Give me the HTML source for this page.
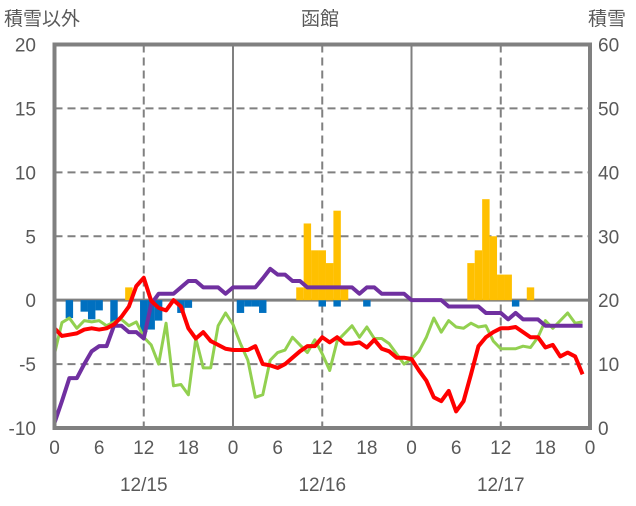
<!DOCTYPE html>
<html><head><meta charset="utf-8"><style>
body{margin:0;background:#fff;}
svg text{font-family:"Liberation Sans","Noto Sans CJK JP",sans-serif;fill:#595959;font-size:19px;}
</style></head><body>
<svg id="chart" width="636" height="501" xmlns="http://www.w3.org/2000/svg">
<g id="grid"></g>
<g id="bars"></g>
<g id="lines"></g>
<g id="frame"></g>
<g id="labels"></g>
<text x="4" y="25">積雪以外</text>
<text x="320" y="25" text-anchor="middle">函館</text>
<text x="588" y="25">積雪</text>
</svg>
<script>
const leftTicks=[20,15,10,5,0,-5,-10];
const rightTicks=[60,50,40,30,20,10,0];
const xTickLabels=["0","6","12","18","0","6","12","18","0","6","12","18","0"];
const dateLabels=["12/15","12/16","12/17"];
const temperature=[-2.2,-2.8,-2.7,-2.6,-2.3,-2.2,-2.3,-2.2,-1.9,-1.3,-0.5,1.1,1.75,-0.05,-0.6,-0.8,0,-0.5,-2.2,-3,-2.5,-3.2,-3.5,-3.8,-3.9,-3.9,-3.9,-3.6,-5,-5.1,-5.3,-5,-4.5,-4,-3.6,-3.6,-2.9,-3.3,-2.9,-3.4,-3.4,-3.3,-3.7,-3.1,-3.8,-4,-4.5,-4.5,-4.6,-5.5,-6.3,-7.6,-7.9,-7.1,-8.7,-7.9,-5.8,-3.6,-2.9,-2.5,-2.2,-2.2,-2.1,-2.5,-2.9,-2.9,-3.7,-3.5,-4.4,-4.1,-4.4,-5.8];
const greenSeries=[-4.2,-1.75,-1.4,-2.2,-1.6,-1.7,-1.6,-2,-1.7,-1.5,-2,-1.7,-2.9,-3.5,-5,-1.8,-6.7,-6.6,-7.4,-3,-5.3,-5.3,-2,-1,-1.9,-3.4,-4.7,-7.6,-7.4,-4.7,-4.1,-3.9,-2.9,-3.5,-4.1,-3.1,-4.2,-5.5,-3.2,-2.6,-2,-2.9,-2.1,-3,-3,-3.4,-4.2,-5,-4.6,-4,-2.9,-1.4,-2.5,-1.6,-2.1,-2.2,-1.8,-2.1,-2,-3.2,-3.8,-3.8,-3.8,-3.6,-3.7,-2.9,-1.6,-2.2,-1.6,-1,-1.8,-1.7];
const purpleSeries=[-9.6,-7.9,-6.1,-6.1,-5,-4,-3.6,-3.6,-2,-2,-2.5,-2.5,-3,-0.3,0.5,0.5,0.5,1,1.5,1.5,1,1,1,0.5,1,1,1,1,1.7,2.45,2,2,1.5,1.5,1,1,1,1,1,1,1,0.5,1,1,0.5,0.5,0.5,0.5,0,0,0,0,0,-0.5,-0.5,-0.5,-0.5,-0.5,-1,-1,-1,-1.5,-1,-1.5,-1.5,-1.5,-2,-2,-2,-2,-2,-2];
const blueHours=[2,4,5,6,8,12,13,14,17,18,25,26,27,28,36,38,42,62];
const blueValues=[-1.4,-0.9,-1.5,-0.8,-2,-2.5,-2.3,-1.6,-1,-0.6,-1,-0.5,-0.5,-1,-0.5,-0.5,-0.5,-0.5];
const snowHours=[10,33,34,35,36,37,38,39,56,57,58,59,60,61,64];
const snowValues=[1,1,6,3.9,3.9,2.9,7,1,2.9,3.9,7.9,5,2,2,1];
const L=54.5,R=590,T=44.5,B=428;
const x=h=>L+h*(R-L)/72;
const y=v=>T+(20-v)*(B-T)/30;
const NS="http://www.w3.org/2000/svg";
function mk(tag,parent,attrs){const e=document.createElementNS(NS,tag);for(const k in attrs)e.setAttribute(k,attrs[k]);document.getElementById(parent).appendChild(e);return e;}
// grid
leftTicks.forEach(v=>{if(v===20||v===-10)return;
 const e=mk('line','grid',{x1:L,x2:R,y1:y(v),y2:y(v),stroke:v===0?'#808080':'#808080','stroke-width':v===0?3:2,'stroke-dasharray':v===0?'':'8,5'});
 
 });
[12,24,36,48,60].forEach(h=>{const solid=h%24===0;
 const e=mk('line','grid',{x1:x(h),x2:x(h),y1:T,y2:B,stroke:'#808080','stroke-width':2,'stroke-dasharray':solid?'':'8,5'});
 
 });
const bw=(R-L)/72;
blueHours.forEach((h,i)=>{const v=blueValues[i];
 const e=mk('rect','bars',{x:x(h)-bw/2,y:y(0),width:bw,height:y(v)-y(0),fill:'#0070c0'});
 
 });
snowHours.forEach((h,i)=>{const v=snowValues[i];
 const e=mk('rect','bars',{x:x(h)-bw/2,y:y(v),width:bw,height:y(0)-y(v),fill:'#ffc000'});
 
 });
function line(arr,color,w,name){const pts=arr.map((v,i)=>x(i)+','+y(v)).join(' ');
 const e=mk('polyline','lines',{points:pts,fill:'none',stroke:color,'stroke-width':w,'stroke-linejoin':'round'});
 
 }
line(greenSeries,'#92d050',3,'green-line');
line(purpleSeries,'#7030a0',4,'purple-line');
line(temperature,'#ff0000',4,'temperature-line');
const fr=mk('rect','frame',{x:L,y:T,width:R-L,height:B-T,fill:'none',stroke:'#808080','stroke-width':4});


leftTicks.forEach(v=>{const t=mk('text','labels',{x:36,y:y(v)+7,'text-anchor':'end'});t.textContent=v;
 
 });
rightTicks.forEach((v,i)=>{const t=mk('text','labels',{x:598,y:y(leftTicks[i])+7});t.textContent=v;
 
 });
xTickLabels.forEach((s,i)=>{const t=mk('text','labels',{x:x(i*6),y:454,'text-anchor':'middle'});t.textContent=s;
 
 });
dateLabels.forEach((s,i)=>{const t=mk('text','labels',{x:x(12+24*i),y:491,'text-anchor':'middle'});t.textContent=s;
 
 });
</script>
</body></html>
